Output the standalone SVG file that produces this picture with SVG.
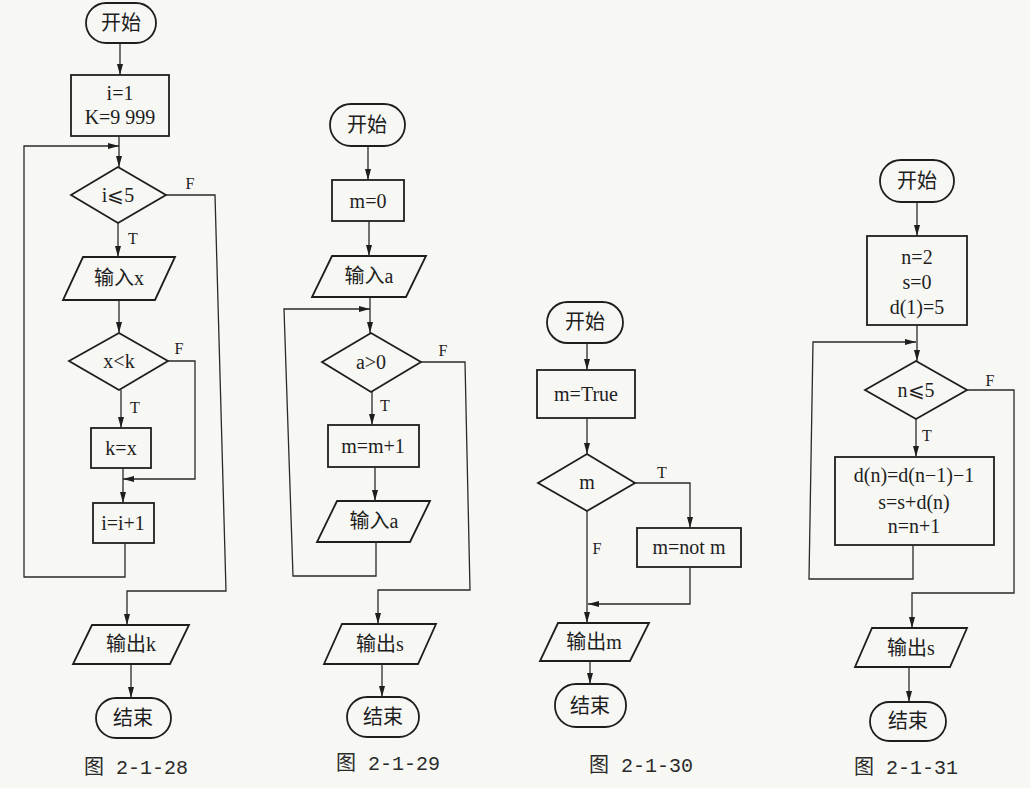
<svg xmlns="http://www.w3.org/2000/svg" width="1030" height="788" viewBox="0 0 1030 788">
<defs>
<style>
.n{fill:none;stroke:#1e1e1e;stroke-width:1.8}
.c{fill:none;stroke:#2a2a2a;stroke-width:1.3}
.t{font-family:"Liberation Serif","Noto Sans CJK SC",serif;font-size:20px;fill:#1e1e1e;text-anchor:middle}
.l{font-family:"Liberation Serif",serif;font-size:16px;fill:#1e1e1e;text-anchor:middle}
.cap{font-family:"Liberation Mono","Noto Sans CJK SC",monospace;font-size:20px;fill:#2a2a2a;text-anchor:middle}
</style>
<marker id="ah" viewBox="0 0 11 6" refX="11" refY="3" markerWidth="11" markerHeight="6" orient="auto" markerUnits="userSpaceOnUse"><path d="M0,0 L11,3 L0,6 z" fill="#1e1e1e"/></marker>
</defs>
<rect width="1030" height="788" fill="#f7f7f4"/>

<!-- Chart 1 -->
<g id="c1-start"><rect class="n" x="86" y="3" width="70" height="40" rx="20"/><text class="t" x="121" y="30">开始</text></g>
<g id="c1-init"><rect class="n" x="71" y="75" width="98" height="61"/><text class="t" x="120" y="100">i=1</text><text class="t" x="120" y="124">K=9 999</text></g>
<g id="c1-dec1"><polygon class="n" points="71,195 118,167 166,195 118,223"/><text class="t" x="118" y="202">i⩽5</text></g>
<g id="c1-in"><polygon class="n" points="83,257 175,257 155,300 63,300"/><text class="t" x="119" y="285">输入x</text></g>
<g id="c1-dec2"><polygon class="n" points="69,361 119,333 168,361 119,390"/><text class="t" x="119" y="368">x&lt;k</text></g>
<g id="c1-kx"><rect class="n" x="91" y="428" width="60" height="40"/><text class="t" x="121" y="455">k=x</text></g>
<g id="c1-inc"><rect class="n" x="93" y="503" width="61" height="40"/><text class="t" x="123" y="530">i=i+1</text></g>
<g id="c1-out"><polygon class="n" points="92,625 189,625 170,664 73,664"/><text class="t" x="131" y="651">输出k</text></g>
<g id="c1-end"><rect class="n" x="96" y="698" width="75" height="40" rx="20"/><text class="t" x="133" y="725">结束</text></g>
<text class="cap" x="136" y="774">图 2-1-28</text>

<!-- Chart 2 -->
<g id="c2-start"><rect class="n" x="330" y="104" width="75" height="42" rx="21"/><text class="t" x="367" y="132">开始</text></g>
<g id="c2-m0"><rect class="n" x="332" y="180" width="72" height="41"/><text class="t" x="368" y="208">m=0</text></g>
<g id="c2-in1"><polygon class="n" points="332,256 426,256 406,297 312,297"/><text class="t" x="369" y="283">输入a</text></g>
<g id="c2-dec"><polygon class="n" points="322,362 371,333 421,362 371,392"/><text class="t" x="371" y="369">a&gt;0</text></g>
<g id="c2-inc"><rect class="n" x="328" y="425" width="91" height="42"/><text class="t" x="373" y="453">m=m+1</text></g>
<g id="c2-in2"><polygon class="n" points="337,501 430,501 410,542 317,542"/><text class="t" x="374" y="528">输入a</text></g>
<g id="c2-out"><polygon class="n" points="342,624 436,624 418,664 324,664"/><text class="t" x="380" y="651">输出s</text></g>
<g id="c2-end"><rect class="n" x="347" y="697" width="72" height="40" rx="20"/><text class="t" x="383" y="724">结束</text></g>
<text class="cap" x="388" y="770">图 2-1-29</text>

<!-- Chart 3 -->
<g id="c3-start"><rect class="n" x="547" y="302" width="76" height="41" rx="20.5"/><text class="t" x="585" y="329">开始</text></g>
<g id="c3-init"><rect class="n" x="537" y="370" width="98" height="48"/><text class="t" x="586" y="401">m=True</text></g>
<g id="c3-dec"><polygon class="n" points="538,483 587,454 635,483 587,511"/><text class="t" x="587" y="489">m</text></g>
<g id="c3-not"><rect class="n" x="637" y="528" width="104" height="39"/><text class="t" x="689" y="554">m=not m</text></g>
<g id="c3-out"><polygon class="n" points="558,623 649,623 630,661 540,661"/><text class="t" x="594" y="649">输出m</text></g>
<g id="c3-end"><rect class="n" x="555" y="684" width="71" height="43" rx="21"/><text class="t" x="590" y="713">结束</text></g>
<text class="cap" x="641" y="772">图 2-1-30</text>

<!-- Chart 4 -->
<g id="c4-start"><rect class="n" x="880" y="160" width="74" height="42" rx="21"/><text class="t" x="917" y="188">开始</text></g>
<g id="c4-init"><rect class="n" x="867" y="236" width="100" height="89"/><text class="t" x="917" y="264">n=2</text><text class="t" x="917" y="289">s=0</text><text class="t" x="917" y="314">d(1)=5</text></g>
<g id="c4-dec"><polygon class="n" points="865,390 916,361 967,390 916,419"/><text class="t" x="916" y="397">n⩽5</text></g>
<g id="c4-body"><rect class="n" x="835" y="457" width="159" height="88"/><text class="t" x="914" y="482">d(n)=d(n−1)−1</text><text class="t" x="914" y="509">s=s+d(n)</text><text class="t" x="914" y="533">n=n+1</text></g>
<g id="c4-out"><polygon class="n" points="872,628 967,628 950,667 855,667"/><text class="t" x="911" y="655">输出s</text></g>
<g id="c4-end"><rect class="n" x="870" y="702" width="76" height="39" rx="19.5"/><text class="t" x="908" y="728">结束</text></g>
<text class="cap" x="906" y="774">图 2-1-31</text>

<g id="connectors">
<!-- chart 1 -->
<path class="c" marker-end="url(#ah)" d="M120,43 V75"/>
<path class="c" marker-end="url(#ah)" d="M119,136 V167"/>
<path class="c" marker-end="url(#ah)" d="M125,543 V577 H24 V146 H119"/>
<path class="c" marker-end="url(#ah)" d="M166,195 H215 L226,591 H127 V625"/>
<path class="c" marker-end="url(#ah)" d="M118,223 V257"/>
<path class="c" marker-end="url(#ah)" d="M119,300 V333"/>
<path class="c" marker-end="url(#ah)" d="M121,390 V428"/>
<path class="c" marker-end="url(#ah)" d="M168,361 H195 V479 H123"/>
<path class="c" marker-end="url(#ah)" d="M123,468 V503"/>
<path class="c" marker-end="url(#ah)" d="M131,664 V698"/>
<!-- chart 2 -->
<path class="c" marker-end="url(#ah)" d="M368,146 V180"/>
<path class="c" marker-end="url(#ah)" d="M369,221 V256"/>
<path class="c" marker-end="url(#ah)" d="M370,297 V333"/>
<path class="c" marker-end="url(#ah)" d="M376,542 V576 H293 L284,309 H370"/>
<path class="c" marker-end="url(#ah)" d="M421,362 H465 L470,590 H378 V624"/>
<path class="c" marker-end="url(#ah)" d="M372,392 V425"/>
<path class="c" marker-end="url(#ah)" d="M375,467 V501"/>
<path class="c" marker-end="url(#ah)" d="M382,664 V697"/>
<!-- chart 3 -->
<path class="c" marker-end="url(#ah)" d="M587,343 V370"/>
<path class="c" marker-end="url(#ah)" d="M587,418 V454"/>
<path class="c" marker-end="url(#ah)" d="M635,483 H690 V528"/>
<path class="c" marker-end="url(#ah)" d="M587,511 V623"/>
<path class="c" marker-end="url(#ah)" d="M690,567 V604 H588"/>
<path class="c" marker-end="url(#ah)" d="M590,661 V684"/>
<!-- chart 4 -->
<path class="c" marker-end="url(#ah)" d="M917,202 V236"/>
<path class="c" marker-end="url(#ah)" d="M917,325 V361"/>
<path class="c" marker-end="url(#ah)" d="M913,545 V579 H809 L813,342 H916"/>
<path class="c" marker-end="url(#ah)" d="M967,390 H1014 V593 H912 V628"/>
<path class="c" marker-end="url(#ah)" d="M916,419 V457"/>
<path class="c" marker-end="url(#ah)" d="M909,667 V702"/>
</g>
<g id="labels">
<text class="l" x="190" y="189">F</text>
<text class="l" x="133" y="244">T</text>
<text class="l" x="179" y="354">F</text>
<text class="l" x="135" y="413">T</text>
<text class="l" x="443" y="356">F</text>
<text class="l" x="385" y="411">T</text>
<text class="l" x="662" y="478">T</text>
<text class="l" x="597" y="554">F</text>
<text class="l" x="990" y="386">F</text>
<text class="l" x="927" y="441">T</text>
</g>
</svg>
